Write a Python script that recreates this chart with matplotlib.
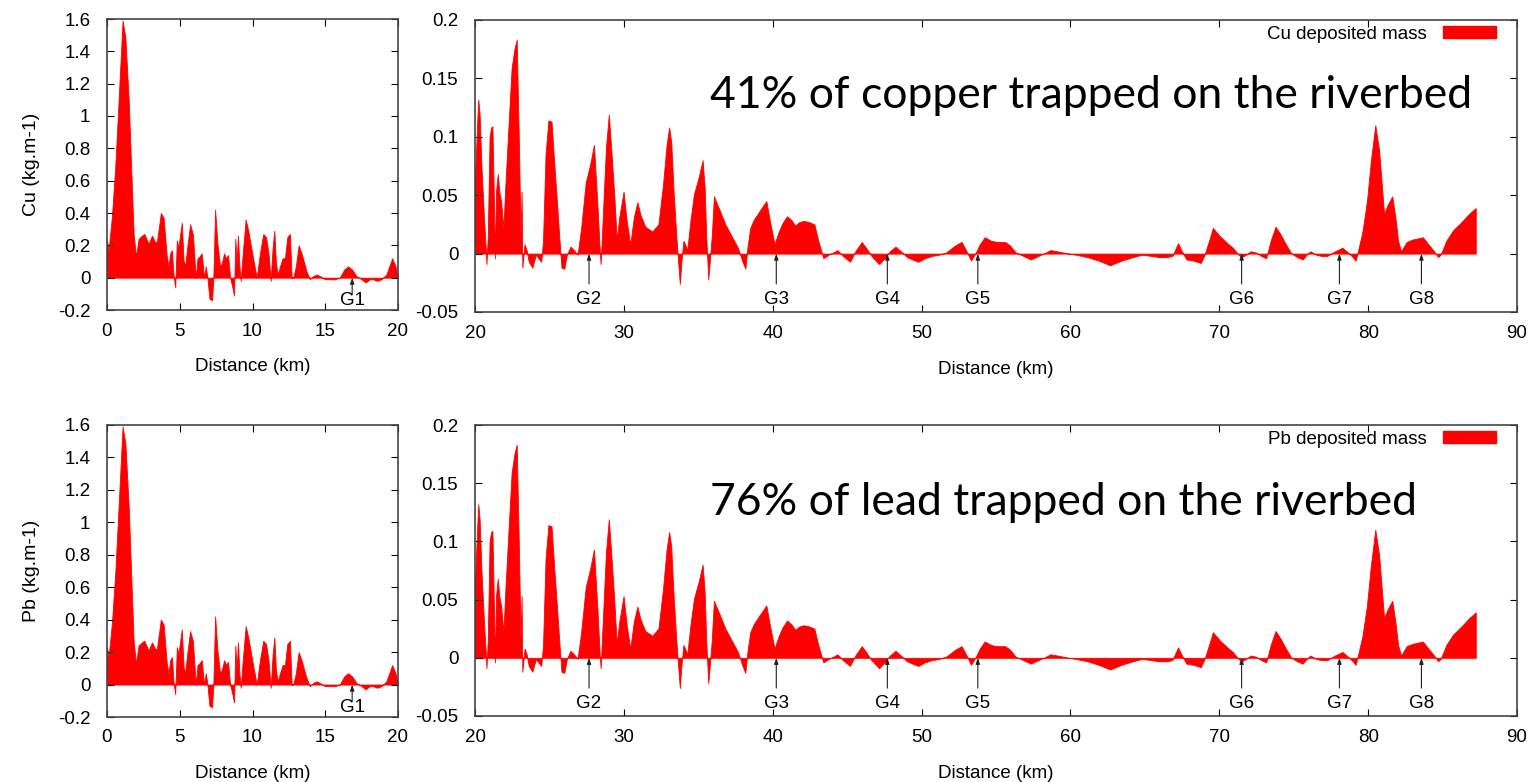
import matplotlib
matplotlib.use('Agg')
import matplotlib.pyplot as plt
from matplotlib.patches import Patch
from matplotlib.ticker import FuncFormatter

plt.rcParams['font.family'] = ['Liberation Sans', 'DejaVu Sans']
plt.rcParams['axes.unicode_minus'] = False

# upstream reach, 0-20 km (deposited mass, kg/m)
km_up = [0, 0.0, 0.11, 0.34, 0.57, 0.91, 1.07, 1.26, 1.49, 1.71, 1.83, 1.99, 2.17, 2.4, 2.56,
         2.86, 3.09, 3.31, 3.43, 3.70, 3.89, 4.11, 4.23, 4.34, 4.46, 4.57, 4.69, 4.8, 4.91,
         5.14, 5.26, 5.37, 5.49, 5.71, 5.9, 6.1, 6.22, 6.35, 6.51, 6.67, 6.79, 6.9, 7.04,
         7.22, 7.31, 7.43, 7.59, 7.77, 7.89, 8.05, 8.18, 8.32, 8.46, 8.62, 8.73, 8.82, 8.91,
         9.0, 9.1, 9.19, 9.33, 9.53, 9.71, 10.06, 10.29, 10.51, 10.74, 10.93, 11.1, 11.25,
         11.38, 11.5, 11.61, 11.73, 11.89, 12.07, 12.23, 12.39, 12.57, 12.69, 12.8, 12.98,
         13.17, 13.37, 13.71, 13.94, 14.17, 14.4, 14.63, 14.97, 15.31, 15.66, 16.0, 16.3,
         16.57, 16.85, 17.14, 17.49, 17.77, 18.06, 18.29, 18.57, 18.86, 19.2, 19.6, 19.83, 20]
cu_up = [0, 0.23, 0.17, 0.38, 0.69, 1.30, 1.59, 1.49, 1.10, 0.56, 0.27, 0.13, 0.24, 0.26, 0.27,
         0.21, 0.26, 0.22, 0.22, 0.40, 0.37, 0.13, 0.07, 0.15, 0.17, 0.02, -0.06, 0.23, 0.19,
         0.34, 0.11, 0.07, 0.17, 0.33, 0.27, 0.00, 0.12, 0.13, 0.15, 0.00, 0.07, 0.0, -0.13,
         -0.14, 0.0, 0.42, 0.21, 0.07, 0.09, 0.15, 0.12, 0.14, 0.0, -0.06, -0.11, 0.24, 0.09,
         0.26, 0.07, -0.02, 0.15, 0.36, 0.29, 0.11, 0.0, 0.15, 0.27, 0.25, 0.15, -0.02,
         0.18, 0.29, 0.09, 0.02, 0.07, 0.12, 0.12, 0.25, 0.27, 0.0, 0.0, 0.07,
         0.20, 0.15, 0.04, -0.01, 0.01, 0.02, 0.01, -0.01, -0.01, -0.01, 0.0, 0.05,
         0.07, 0.05, 0.01, -0.01, -0.03, -0.01, -0.01, -0.02, -0.01, 0.02, 0.12, 0.07, 0]

# downstream reach, 20-87 km
km_down = [20, 20.0, 20.14, 20.22, 20.31, 20.43, 20.6, 20.72, 20.77, 20.86, 20.98, 21.08, 21.17,
           21.27, 21.34, 21.41, 21.53, 21.63, 21.75, 21.91, 22.03, 22.22, 22.46, 22.66, 22.8,
           22.94, 23.06, 23.13, 23.18, 23.33, 23.47, 23.61, 23.85, 24.09, 24.26, 24.45, 24.57,
           24.74, 24.93, 25.14, 25.33, 25.5, 25.65, 25.81, 26.0, 26.17, 26.41, 26.65, 26.89,
           27.13, 27.44, 27.73, 27.99, 28.21, 28.37, 28.44, 28.59, 28.8, 28.99, 29.16, 29.35,
           29.52, 29.69, 29.98, 30.19, 30.43, 30.67, 30.91, 31.12, 31.44, 31.91, 32.32, 32.63,
           32.87, 33.04, 33.18, 33.35, 33.52, 33.66, 33.76, 33.85, 34.0, 34.11, 34.26, 34.47,
           34.71, 35.02, 35.29, 35.43, 35.53, 35.67, 35.77, 35.91, 36.05, 36.41, 36.82, 37.66,
           37.97, 38.16, 38.3, 38.49, 38.73, 39.09, 39.57, 39.81, 40.12, 40.41, 40.65, 40.96,
           41.24, 41.51, 41.79, 42.08, 42.44, 42.8, 43.04, 43.4, 43.76, 44.07, 44.35, 44.71,
           45.19, 45.55, 45.98, 46.27, 46.63, 47.15, 47.58, 47.87, 48.25, 48.61, 49.02, 49.38,
           49.78, 50.21, 50.69, 51.17, 51.65, 52.26, 52.69, 53.02, 53.32, 53.65, 53.91, 54.24,
           54.67, 55.05, 55.61, 55.94, 56.32, 56.83, 57.34, 57.84, 58.22, 58.65, 59.11, 59.87,
           60.38, 61.14, 61.9, 62.66, 63.43, 64.19, 64.82, 65.46, 65.96, 66.47, 66.85, 67.23,
           67.49, 67.79, 68.25, 68.76, 69.01, 69.31, 69.57, 70.03, 70.53, 70.91, 71.29, 71.5,
           71.8, 72.11, 72.44, 72.82, 73.15, 73.45, 73.78, 74.09, 74.47, 74.85, 75.23, 75.61,
           75.86, 76.12, 76.5, 76.88, 77.26, 77.77, 78.27, 78.65, 78.96, 79.16, 79.37, 79.62,
           79.92, 80.18, 80.48, 80.74, 81.07, 81.32, 81.62, 81.83, 82.01, 82.21, 82.59, 82.97,
           83.35, 83.68, 83.98, 84.37, 84.70, 84.87, 85.25, 85.71, 86.27, 86.78, 87.23, 87.23]
cu_down = [0, 0.065, 0.11, 0.132, 0.119, 0.076, 0.031, 0.005, -0.009, 0.016, 0.10, 0.108, 0.109,
           0.045, -0.004, 0.053, 0.068, 0.053, 0.045, 0.022, 0.056, 0.102, 0.159, 0.176, 0.183,
           0.10, 0.016, 0.053, -0.012, 0.008, 0.003, -0.007, -0.012, -0.001, -0.004, -0.007, 0.011,
           0.085, 0.114, 0.113, 0.076, 0.045, 0.016, -0.012, -0.013, -0.001, 0.006, 0.003, -0.001,
           0.022, 0.061, 0.076, 0.093, 0.045, 0.005, -0.009, 0.033, 0.091, 0.119, 0.088, 0.051,
           0.012, 0.031, 0.053, 0.028, 0.008, 0.031, 0.044, 0.033, 0.023, 0.019, 0.025, 0.059,
           0.093, 0.108, 0.096, 0.051, 0.016, -0.009, -0.026, -0.009, 0.011, 0.008, 0.003, 0.028,
           0.051, 0.065, 0.080, 0.056, 0.016, -0.022, -0.007, 0.016, 0.049, 0.038, 0.025, 0.005,
           -0.007, -0.013, 0.005, 0.022, 0.029, 0.036, 0.045, 0.028, 0.008, 0.019, 0.026, 0.032,
           0.029, 0.024, 0.027, 0.028, 0.027, 0.025, 0.012, -0.004, -0.001, 0.001, 0.003, -0.002,
           -0.007, 0.002, 0.010, 0.005, -0.002, -0.009, -0.003, 0.002, 0.006, 0.002, -0.003, -0.005,
           -0.007, -0.004, -0.002, -0.001, 0.001, 0.007, 0.010, 0.002, -0.006, 0.001, 0.008, 0.014,
           0.011, 0.010, 0.010, 0.007, 0.001, -0.002, -0.005, -0.002, 0.0, 0.003, 0.002, 0.0,
           -0.001, -0.003, -0.006, -0.010, -0.006, -0.003, -0.001, -0.002, -0.003, -0.003, -0.002, 0.009,
           0.002, -0.005, -0.006, -0.008, -0.001, 0.011, 0.022, 0.015, 0.009, 0.005, -0.001, -0.003,
           -0.001, 0.002, 0.001, -0.002, -0.004, 0.011, 0.023, 0.017, 0.008, 0.0, -0.003, -0.005,
           -0.001, 0.002, -0.001, -0.002, -0.002, 0.002, 0.005, 0.001, -0.003, -0.006, 0.005, 0.019,
           0.045, 0.079, 0.110, 0.088, 0.034, 0.042, 0.049, 0.031, 0.011, 0.002, 0.010, 0.012,
           0.013, 0.014, 0.009, 0.003, -0.003, -0.001, 0.011, 0.020, 0.027, 0.034, 0.039, 0]

# lead profile reads the same as copper in the figure
pb_up = list(cu_up)
pb_down = list(cu_down)

gauge_up = ['G1']
gauge_up_km = [16.85]
gauges = ['G2', 'G3', 'G4', 'G5', 'G6', 'G7', 'G8']
gauges_km = [27.66, 40.24, 47.7, 53.78, 71.5, 78.07, 83.58]

W, H = 1533, 782
fig = plt.figure(figsize=(W / 100, H / 100), dpi=100)


def box(l, t, r, b):
    return [l / W, 1 - b / H, (r - l) / W, (b - t) / H]


fmt = FuncFormatter(lambda v, p: '%g' % round(v, 3))
FS = 13.5
frame = '#444444'


def style(ax):
    for s in ax.spines.values():
        s.set_color(frame)
        s.set_linewidth(1.2)
    ax.tick_params(direction='in', top=True, right=True, length=5, width=0.8,
                   colors='black', labelsize=FS)
    ax.tick_params(axis='x', pad=9)
    ax.tick_params(axis='y', pad=12)
    ax.xaxis.set_major_formatter(fmt)
    ax.yaxis.set_major_formatter(fmt)


def gauge(ax, name, x, tail, lab):
    ax.annotate('', xy=(x, 0), xytext=(x, tail),
                arrowprops=dict(arrowstyle='-|>,head_length=0.35,head_width=0.12',
                                color='#222222', lw=0.8, shrinkA=0, shrinkB=0))
    ax.text(x, lab, name, ha='center', va='center', fontsize=FS)


rows = [
    ('Cu', cu_up, cu_down, '41% of copper trapped on the riverbed', (19, 310), (20, 312), 108),
    ('Pb', pb_up, pb_down, '76% of lead trapped on the riverbed', (425, 717), (425, 716), 515),
]

for el, up, down, note, ly, ry, base in rows:
    ax1 = fig.add_axes(box(107, ly[0], 398, ly[1]))
    ax1.fill_between(km_up, 0, up, color='#ff0000', lw=0.6, edgecolor='#ff0000')
    ax1.set_xlim(0, 20)
    ax1.set_ylim(-0.2, 1.6)
    ax1.set_xticks(range(0, 21, 5))
    ax1.set_yticks([-0.2, 0, 0.2, 0.4, 0.6, 0.8, 1, 1.2, 1.4, 1.6])
    style(ax1)
    ax1.set_xlabel('Distance (km)', fontsize=FS, labelpad=13)
    ax1.set_ylabel(el + ' (kg.m-1)', fontsize=FS + 0.5, labelpad=13)
    for name, x in zip(gauge_up, gauge_up_km):
        gauge(ax1, name, x, -0.1, -0.14)

    ax2 = fig.add_axes(box(475, ry[0], 1517, ry[1]))
    ax2.fill_between(km_down, 0, down, color='#ff0000', lw=0.6, edgecolor='#ff0000')
    ax2.set_xlim(20, 90)
    ax2.set_ylim(-0.05, 0.2)
    ax2.set_xticks(range(20, 91, 10))
    ax2.set_yticks([-0.05, 0, 0.05, 0.1, 0.15, 0.2])
    style(ax2)
    ax2.set_xlabel('Distance (km)', fontsize=FS, labelpad=14)
    for name, x in zip(gauges, gauges_km):
        gauge(ax2, name, x, -0.026, -0.039)
    ax2.legend(handles=[Patch(color='#ff0000', label=el + ' deposited mass')],
               loc='upper right', bbox_to_anchor=(0.985, 1.0), frameon=False,
               markerfirst=False, fontsize=FS, handlelength=2.8, handleheight=0.55,
               handletextpad=0.9, borderaxespad=0, borderpad=0.3)

    fig.text(710 / W, 1 - base / H, note, fontsize=32, family=['Lato', 'DejaVu Sans'],
             ha='left', va='baseline', color='black')

fig.savefig('out.png', dpi=100)
